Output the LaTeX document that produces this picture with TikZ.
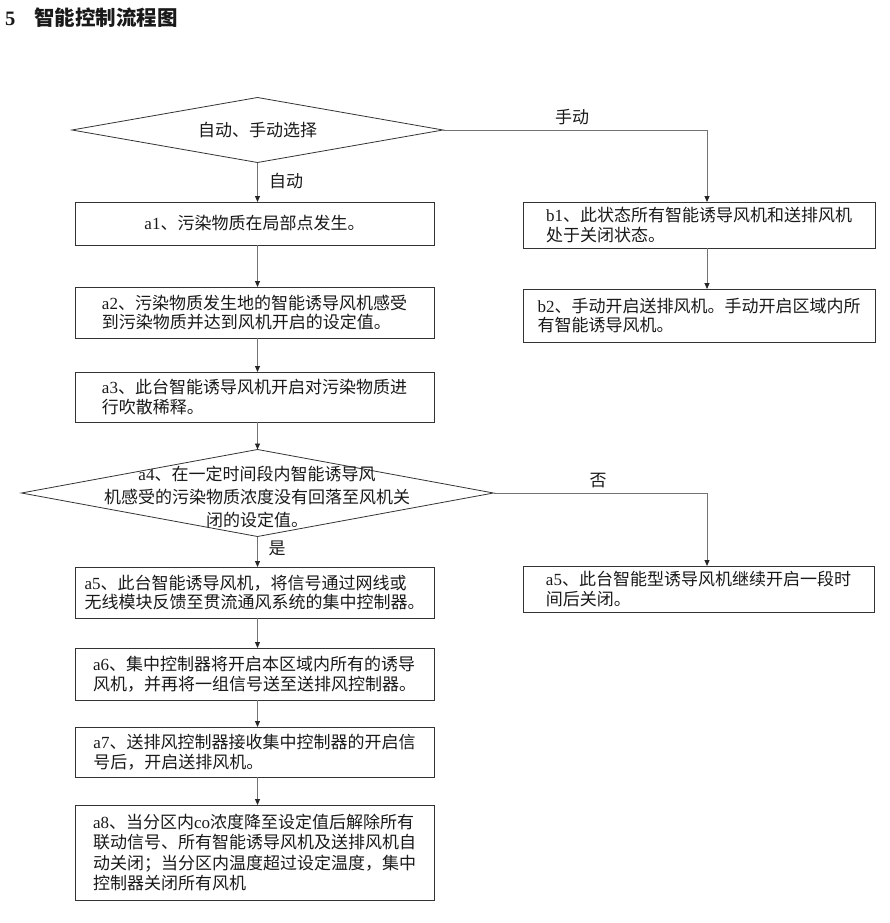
\documentclass[tikz,border=0pt]{standalone}
\usepackage{fontspec}
\setmainfont{Noto Sans CJK SC}
\newfontfamily\lat{Liberation Serif}
\usetikzlibrary{shapes.geometric,arrows.meta}
\begin{document}
\begin{tikzpicture}[x=1pt,y=-1pt,
  txt/.style={font=\fontsize{17}{19.5}\selectfont, text=black!90, inner sep=1pt},
  box/.style={txt, draw=black!80, line width=0.8pt, rectangle, align=left, inner sep=1pt, outer sep=0pt},
  dia/.style={diamond, draw=black!80, line width=0.8pt, inner sep=0pt, outer sep=0pt},
  conn/.style={draw=black!55, line width=0.9pt},
  arr/.style={conn, -{Triangle[length=6pt,width=5pt,black!85]}}]
\useasboundingbox (0,0) rectangle (889,923);
\node[txt, font=\fontsize{20.5}{21}\selectfont\bfseries, anchor=west, inner sep=0pt] (title) at (5,18) {{\lat\bfseries 5}\hspace{19pt}智能控制流程图};

\coordinate (cx) at (257.5,0);
\coordinate (m) at (707,130);
\coordinate (n) at (707,493);

% diamonds
\node[dia, minimum width=371pt, minimum height=65pt] (d1) at (257.5,130) {};
\node[txt] (d1t) at (d1.center) {自动、手动选择};
\node[dia, minimum width=472pt, minimum height=87pt] (d2) at (257.5,493) {};
\node[txt, align=center, font=\fontsize{17}{22.5}\selectfont] (d2t) at (257,497) {{\lat a4}、在一定时间段内智能诱导风\\机感受的污染物质浓度没有回落至风机关\\闭的设定值。};

% left column
\node[box, minimum width=359pt, minimum height=43pt] (a1) at (254.5,223.5) {{\lat a1}、污染物质在局部点发生。};
\node[box, minimum width=359pt, minimum height=51pt] (a2) at (254.5,312.5) {{\lat a2}、污染物质发生地的智能诱导风机感受\\到污染物质并达到风机开启的设定值。};
\node[box, minimum width=359pt, minimum height=50pt] (a3) at (254.5,397) {{\lat a3}、此台智能诱导风机开启对污染物质进\\行吹散稀释。};
\node[box, minimum width=359pt, minimum height=51pt] (a5) at (254.5,592.5) {{\lat a5}、此台智能诱导风机，将信号通过网线或\\无线模块反馈至贯流通风系统的集中控制器。};
\node[box, minimum width=359pt, minimum height=52pt] (a6) at (254.5,674) {{\lat a6}、集中控制器将开启本区域内所有的诱导\\风机，并再将一组信号送至送排风控制器。};
\node[box, minimum width=359pt, minimum height=50pt] (a7) at (254.5,752) {{\lat a7}、送排风控制器接收集中控制器的开启信\\号后，开启送排风机。};
\node[box, minimum width=359pt, minimum height=95pt, font=\fontsize{17}{20.5}\selectfont] (a8) at (254.5,852.5) {{\lat a8}、当分区内{\lat co}浓度降至设定值后解除所有\\联动信号、所有智能诱导风机及送排风机自\\动关闭；当分区内温度超过设定温度，集中\\控制器关闭所有风机};

% right column
\node[box, minimum width=352pt, minimum height=46pt] (b1) at (699,225) {{\lat b1}、此状态所有智能诱导风机和送排风机\\处于关闭状态。};
\node[box, minimum width=352pt, minimum height=53pt] (b2) at (699,315.5) {{\lat b2}、手动开启送排风机。手动开启区域内所\\有智能诱导风机。};
\node[box, minimum width=351pt, minimum height=46pt] (c5) at (698.5,589) {{\lat a5}、此台智能型诱导风机继续开启一段时\\间后关闭。};

% connectors
\draw[arr] (d1.south) -- (cx |- a1.north);
\draw[arr] (cx |- a1.south) -- (cx |- a2.north);
\draw[arr] (cx |- a2.south) -- (cx |- a3.north);
\draw[arr] (cx |- a3.south) -- (d2.north);
\draw[arr] (d2.south) -- (cx |- a5.north);
\draw[arr] (cx |- a5.south) -- (cx |- a6.north);
\draw[arr] (cx |- a6.south) -- (cx |- a7.north);
\draw[arr] (cx |- a7.south) -- (cx |- a8.north);
\draw[arr] (d1.east) -- (m) -- (m |- b1.north);
\draw[arr] (m |- b1.south) -- (m |- b2.north);
\draw[arr] (d2.east) -- (n) -- (n |- c5.north);

% labels
\node[txt] (lauto) at (286,181) {自动};
\node[txt] (lman) at (572,117) {手动};
\node[txt] (lno) at (598,481) {否};
\node[txt] (lyes) at (277,548) {是};
\end{tikzpicture}
\end{document}
